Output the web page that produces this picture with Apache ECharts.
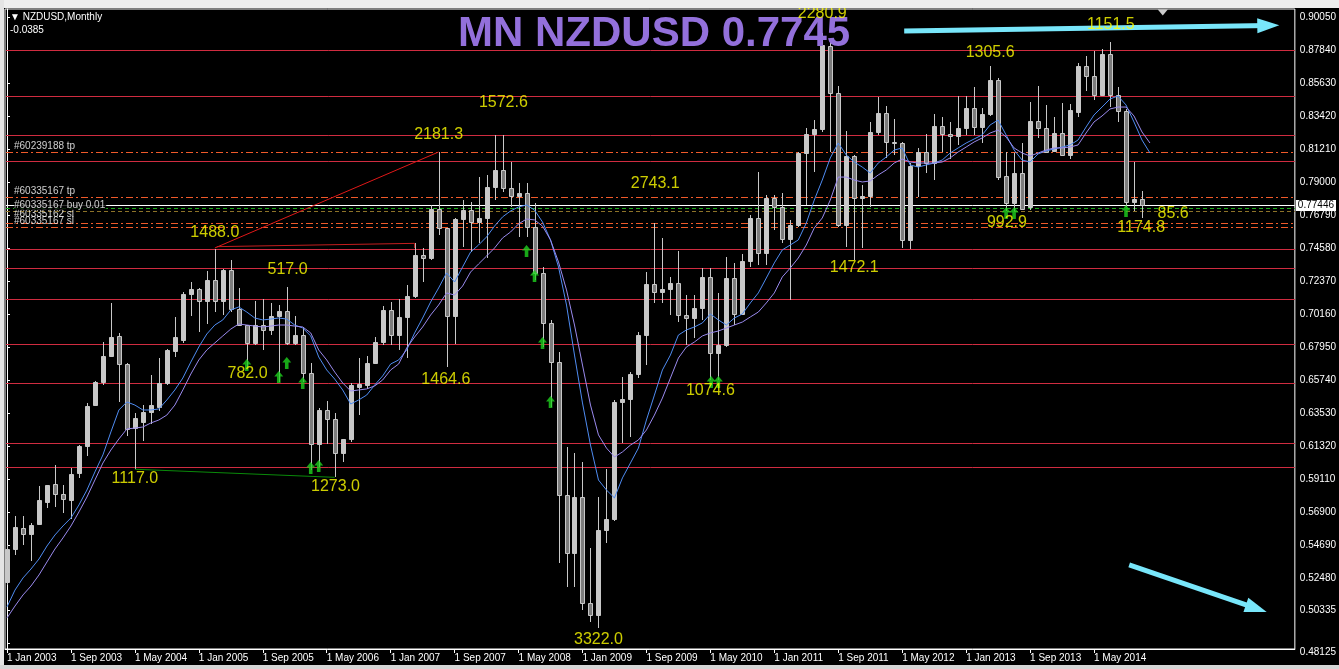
<!DOCTYPE html>
<html><head><meta charset="utf-8">
<script src="https://cdn.jsdelivr.net/npm/echarts@6/dist/echarts.min.js"></script>
<style>html,body{margin:0;padding:0;background:#000;overflow:hidden}#c{width:1339px;height:669px}</style>
</head><body><div id="c"></div>
<script>
// ---------- data ----------
const xTickLabels = ['1 Jan 2003','1 Sep 2003','1 May 2004','1 Jan 2005','1 Sep 2005','1 May 2006','1 Jan 2007','1 Sep 2007','1 May 2008','1 Jan 2009','1 Sep 2009','1 May 2010','1 Jan 2011','1 Sep 2011','1 May 2012','1 Jan 2013','1 Sep 2013','1 May 2014'];
const priceTicks = [0.90050,0.87840,0.85630,0.83420,0.81210,0.79000,0.76790,0.74580,0.72370,0.70160,0.67950,0.65740,0.63530,0.61320,0.59110,0.56900,0.54690,0.52480,0.50335,0.48125];

// monthly candles, index 0 = Jan 2003
const opens = [.5223,.5440,.5580,.5540,.5610,.5760,.5880,.5808,.5770,.5950,.6132,.6405,.6558,.6735,.6870,.6679,.6250,.6290,.6361,.6395,
.6552,.6770,.6845,.7150,.7183,.7103,.7244,.7105,.7311,.7049,.6940,.6820,.6942,.6909,.7003,.7038,.6820,.6873,.6623,.6145,
.6373,.6311,.6083,.6177,.6525,.6540,.6686,.6830,.7043,.6875,.6994,.7136,.7411,.7389,.7717,.7590,.7003,.7652,.7712,.7634,
.7659,.7869,.7980,.7858,.7806,.7828,.7601,.7288,.6954,.6696,.5804,.5413,.5792,.5078,.5000,.5569,.5643,.6429,.6445,.6614,
.6875,.7217,.7165,.7181,.7221,.7009,.6987,.7054,.7262,.6757,.6808,.7255,.7016,.7371,.7657,.7422,.7791,.7735,.7516,.7612,
.8092,.8219,.8253,.8810,.8494,.7612,.8074,.7790,.7806,.8233,.8360,.8170,.8159,.7512,.8007,.8103,.8025,.8275,.8222,.8205,
.8260,.8398,.8270,.8355,.8583,.7940,.7761,.7962,.7730,.8309,.8260,.8110,.8225,.8083,.8370,.8677,.8610,.8483,.8757,.8483,
.8375,.7768,.7786];
const closes = [.5440,.5587,.5540,.5605,.5770,.5868,.5808,.5775,.5944,.6132,.6400,.6558,.6735,.6860,.6679,.6248,.6317,.6361,.6406,.6552,
.6775,.6860,.7150,.7183,.7103,.7244,.7105,.7311,.7049,.6944,.6820,.6942,.6909,.7003,.7038,.6820,.6875,.6623,.6145,.6373,
.6311,.6083,.6177,.6540,.6545,.6686,.6830,.7043,.6875,.6994,.7136,.7411,.7389,.7717,.7590,.7003,.7652,.7712,.7634,.7659,
.7869,.7980,.7858,.7806,.7828,.7601,.7288,.6954,.6696,.5804,.5413,.5792,.5078,.5000,.5569,.5643,.6429,.6445,.6614,.6875,
.7217,.7165,.7181,.7221,.7009,.6987,.7054,.7262,.6757,.6808,.7255,.7016,.7371,.7657,.7422,.7791,.7735,.7516,.7612,.8092,
.8219,.8253,.8817,.8494,.7612,.8074,.7790,.7806,.8233,.8360,.8170,.8159,.7512,.8007,.8103,.8025,.8275,.8222,.8205,.8260,
.8398,.8270,.8355,.8583,.7932,.7761,.7962,.7717,.8309,.8260,.8103,.8225,.8083,.8382,.8677,.8610,.8483,.8757,.8483,.8375,
.7768,.7786,.7745];
const lows = [.5200,.5405,.5469,.5364,.5600,.5715,.5725,.5685,.5645,.5916,.6067,.6400,.6540,.6725,.6429,.6201,.5976,.6167,.6279,.6365,
.6540,.6730,.6820,.7004,.6897,.6949,.7031,.7008,.7031,.6940,.6663,.6810,.6775,.6875,.6562,.6808,.6808,.6562,.5971,.5993,
.6145,.5922,.6027,.6161,.6339,.6512,.6680,.6808,.6808,.6775,.6719,.7121,.7232,.7378,.7545,.6663,.6815,.7467,.7433,.7489,
.7389,.7779,.7835,.7735,.7533,.7533,.7244,.6797,.6395,.5346,.5189,.5189,.5033,.4955,.4911,.5480,.5630,.6150,.6194,.6585,
.6675,.7090,.7087,.7009,.6964,.6808,.6853,.6976,.6574,.6574,.6797,.6942,.7010,.7333,.7344,.7344,.7578,.7489,.7110,.7600,
.7746,.7969,.8235,.8103,.7597,.7467,.7378,.7456,.7731,.8215,.8059,.8081,.7456,.7449,.7802,.7958,.7913,.8103,.8052,.8148,
.8215,.8215,.8159,.8340,.7913,.7708,.7708,.7710,.7715,.8193,.8100,.8100,.8079,.8052,.8333,.8511,.8449,.8480,.8404,.8304,
.7735,.7708,.7657];
const highs = [.5470,.5663,.5663,.5614,.5864,.5872,.6003,.5869,.5982,.6140,.6418,.6565,.6828,.7092,.6890,.6685,.6355,.6406,.6607,.6719,
.6780,.6998,.7165,.7228,.7190,.7306,.7451,.7315,.7378,.7188,.6945,.7105,.7116,.7092,.7076,.7199,.7003,.6931,.6686,.6384,
.6435,.6351,.6180,.6552,.6719,.6735,.6860,.7069,.7098,.7116,.7210,.7489,.7456,.7746,.8103,.7595,.7660,.7779,.7768,.7935,
.7947,.8215,.8215,.8036,.7891,.7891,.7761,.7333,.6976,.6763,.6127,.6083,.6027,.5447,.5792,.5976,.6440,.6596,.6630,.6897,
.7299,.7627,.7523,.7262,.7438,.7143,.7143,.7322,.7322,.7155,.7400,.7355,.7418,.7679,.7969,.7813,.7813,.7824,.7645,.8103,
.8260,.8315,.8895,.8838,.8543,.8243,.8081,.7880,.8304,.8471,.8409,.8320,.8170,.8029,.8126,.8222,.8355,.8333,.8304,.8476,
.8476,.8534,.8393,.8677,.8596,.8103,.8096,.8159,.8438,.8543,.8416,.8333,.8431,.8422,.8699,.8744,.8779,.8789,.8840,.8534,
.8387,.8036,.7842];

// moving averages (shifted one bar forward)
const maFast = [.5054,.5167,.5248,.5308,.5375,.5462,.5536,.5596,.5650,.5737,.5837,.5958,.6072,.6226,.6373,.6427,.6406,.6373,.6373,.6380,
.6440,.6507,.6587,.6694,.6795,.6882,.6942,.6976,.7043,.7063,.7029,.6989,.6976,.6982,.6989,.6982,.6942,.6922,.6869,.6728,
.6641,.6580,.6507,.6413,.6440,.6473,.6540,.6601,.6681,.6708,.6775,.6889,.6989,.7096,.7190,.7291,.7230,.7331,.7431,.7478,
.7532,.7605,.7666,.7706,.7733,.7746,.7712,.7632,.7512,.7331,.7076,.6741,.6420,.6138,.5904,.5837,.5784,.5918,.6018,.6118,
.6306,.6473,.6641,.6741,.6875,.6909,.6929,.6956,.7016,.6976,.6942,.6989,.7016,.7090,.7157,.7257,.7358,.7445,.7478,.7512,
.7625,.7779,.7913,.8061,.8161,.8081,.8034,.8000,.7960,.8027,.8067,.8114,.8128,.8014,.8000,.8014,.8027,.8047,.8094,.8128,
.8161,.8188,.8215,.8282,.8315,.8215,.8114,.8047,.8034,.8088,.8108,.8121,.8134,.8148,.8181,.8268,.8349,.8402,.8456,.8476,
.8416,.8302,.8181,.8094];
const maSlow = [.4980,.5060,.5134,.5194,.5268,.5355,.5442,.5516,.5596,.5690,.5790,.5904,.6018,.6105,.6179,.6246,.6252,.6259,.6286,.6306,
.6339,.6406,.6507,.6614,.6708,.6775,.6822,.6869,.6915,.6949,.6942,.6935,.6929,.6935,.6942,.6942,.6935,.6929,.6889,.6775,
.6708,.6627,.6554,.6500,.6507,.6514,.6534,.6574,.6641,.6681,.6788,.6862,.6929,.7009,.7076,.7157,.7143,.7203,.7297,.7351,
.7404,.7458,.7525,.7565,.7619,.7652,.7646,.7605,.7512,.7364,.7177,.6942,.6674,.6406,.6206,.6118,.6058,.6092,.6138,.6172,
.6239,.6339,.6453,.6587,.6721,.6795,.6828,.6869,.6889,.6902,.6922,.6942,.6962,.6996,.7029,.7090,.7157,.7264,.7324,.7391,
.7478,.7592,.7659,.7779,.7933,.7933,.7913,.7900,.7907,.7947,.7980,.8027,.8054,.8034,.8027,.8027,.8027,.8034,.8061,.8101,
.8134,.8168,.8195,.8228,.8248,.8201,.8128,.8094,.8074,.8094,.8114,.8128,.8128,.8134,.8148,.8228,.8302,.8342,.8389,.8402,
.8402,.8342,.8235,.8161];

// horizontal support / resistance levels
const levelPrices = [0.8782,0.8473,0.8215,0.8039,0.7451,0.7322,0.7115,0.6813,0.6552,0.6150,0.5993];
// order lines (take profit / stop loss)
const orderTpSl = [0.8098,0.7800,0.7627,0.7601];
const buyPrice = 0.7729, buyPrice2 = 0.7708, bidPrice = 0.77446;
const orderTexts = ['#60239188 tp','#60335167 tp','#60335162 sl','#60335167 sl','#60335167 buy 0.01'];
const orderTextPrices = [0.8141,0.7840,0.7686,0.7639,0.7746];

// swing labels: text, bar position, price
const swingTexts = ['2280.9','1151.5','1305.6','1572.6','2181.3','2743.1','1488.0','517.0','1472.1','782.0','1464.6','1074.6','1117.0','1273.0','3322.0','992.9','1174.8','85.6'];
const swingBars  = [102,138.1,123,62.1,54,81.1,26,35.1,106,30.1,54.9,88,16,41.1,74,125.1,141.9,145.9];
const swingPrices= [0.9025,0.8951,0.8764,0.8429,0.8215,0.7887,0.7558,0.7311,0.7324,0.6614,0.6574,0.6500,0.5911,0.5857,0.4833,0.7625,0.7592,0.7686];

// green buy-signal arrows
const arrowBars   = [30,34,35,37,38,39,65,66,67,68,88.1,89,125,126,140];
const arrowPrices = [.6674,.6594,.6688,.6554,.5984,.5998,.7438,.7270,.6822,.6427,.6560,.6560,.7692,.7692,.7706];

// trend lines
const redTrend   = [[26,0.7458],[54,0.8101]];
const redFlat    = [[26.25,0.7467],[51,0.7489],[51,0.7458]];
const greenTrend = [[16,0.5976],[41,0.5922]];
// big cyan arrows [start, head]
const cyanTop    = [[112.25,0.8911],[157.8,0.8948]];
const cyanBottom = [[140.4,0.5335],[156.3,0.5044]];

// ---------- chart ----------
const chart = echarts.init(document.getElementById('c'), null, {renderer:'canvas'});
const FONT = 'Liberation Sans';
const xTickValues = xTickLabels.map((_, k) => k * 8);
const candleData = opens.map((o, i) => [i, o, closes[i], lows[i], highs[i]]);

function renderCandle(params, api) {
  const i = api.value(0), o = api.value(1), c = api.value(2), l = api.value(3), h = api.value(4);
  const pO = api.coord([i, o]), pC = api.coord([i, c]);
  const pL = api.coord([i, l]), pH = api.coord([i, h]);
  const x = Math.round(pO[0]) + 0.5;
  const top = Math.round(Math.min(pO[1], pC[1])) + 0.5;
  const bot = Math.round(Math.max(pO[1], pC[1])) + 0.5;
  const bull = c >= o;
  return {
    type: 'group',
    children: [
      {type:'line', shape:{x1:x, y1:Math.round(pH[1]), x2:x, y2:Math.round(pL[1])}, style:{stroke:'#C8C8C8', lineWidth:1}},
      {type:'rect', shape:{x:x-2, y:top, width:4, height:Math.max(bot-top, 1)},
       style:{fill: bull ? '#C8C8C8' : '#7C7C7C', stroke:'#C8C8C8', lineWidth:1}}
    ]
  };
}

// crisp full-width horizontal lines drawn through the value axis
function hLineSeries(values, color, dash, z, withLabel) {
  return {
    type:'custom', silent:true, z:z, clip:!withLabel,
    data: values.map(v => [0, v]),
    encode: {x:0, y:1},
    renderItem: function (params, api) {
      const cs = params.coordSys;
      const v = api.value(1);
      const y = Math.round(api.coord([0, v])[1]) + 0.5;
      const kids = [{type:'line', shape:{x1:cs.x + 1, y1:y, x2:cs.x + cs.width, y2:y},
        style:{stroke:color, lineWidth:1, lineDash:dash || null}}];
      if (withLabel) {
        kids.push({type:'text', x:cs.x + cs.width + 1, y:y,
          style:{text:v.toFixed(5), fill:'#000000', backgroundColor:'#FFFFFF', padding:[1,2,0,2],
                 font:'10px "' + FONT + '"', align:'left', verticalAlign:'middle'}});
      }
      return {type:'group', children:kids};
    }
  };
}

const option = {
  backgroundColor: '#000000',
  animation: false,
  title: [
    {text:'MN NZDUSD 0.7745', left:458, top:13, padding:0,
     textStyle:{color:'#9370DB', fontSize:42, fontWeight:'bold', fontFamily:FONT}},
    {text:'\u25BC NZDUSD,Monthly', left:10, top:12, padding:0,
     textStyle:{color:'#FFFFFF', fontSize:10, fontWeight:'normal', fontFamily:FONT}},
    {text:'-0.0385', left:10, top:25, padding:0,
     textStyle:{color:'#FFFFFF', fontSize:10, fontWeight:'normal', fontFamily:FONT}}
  ],
  grid: {left:5, top:9, width:1291, height:640, show:true, borderColor:'#FFFFFF', borderWidth:1, backgroundColor:'#000000'},
  xAxis: {
    type:'value', min:-0.25, max:161.125,
    splitLine:{show:false},
    axisLine:{show:true, lineStyle:{color:'#FFFFFF'}},
    axisTick:{show:true, customValues:xTickValues, length:4, lineStyle:{color:'#FFFFFF'}},
    axisLabel:{show:true, customValues:xTickValues, color:'#FFFFFF', fontSize:10, fontFamily:FONT, align:'left', margin:4,
      formatter: v => xTickLabels[Math.round(v / 8)] || ''}
  },
  yAxis: {
    type:'value', position:'right', min:0.47722, max:0.90586, scale:true,
    splitLine:{show:false},
    axisLine:{show:true, lineStyle:{color:'#FFFFFF'}},
    axisTick:{show:true, customValues:priceTicks, length:3, lineStyle:{color:'#FFFFFF'}},
    axisLabel:{show:true, customValues:priceTicks, color:'#FFFFFF', fontSize:10, fontFamily:FONT, margin:5,
      formatter: v => v < 0.49 ? '{low|' + v.toFixed(5) + '}' : v.toFixed(5),
      rich:{low:{color:'#FFFFFF', fontSize:10, fontFamily:FONT, padding:[18,0,0,0]}}}
  },
  series: [
    hLineSeries(levelPrices, '#D02C40', null, 2),
    hLineSeries(orderTpSl, '#F05A2A', [7,3,2,3], 2),
    hLineSeries([buyPrice], '#1AAA1A', [4,3], 2),
    hLineSeries([buyPrice2], '#8C7228', [4,3], 2),
    hLineSeries([bidPrice], '#FFFFFF', null, 2, true),
    {type:'custom', name:'NZDUSD', renderItem:renderCandle, data:candleData, encode:{x:0, y:[1,2,3,4]}, z:3, clip:true},
    {type:'line', name:'MA fast', data:maFast.map((v, i) => [i, v]), showSymbol:false, z:4,
     lineStyle:{color:'#4F8CF2', width:1}},
    {type:'line', name:'MA slow', data:maSlow.map((v, i) => [i, v]), showSymbol:false, z:4,
     lineStyle:{color:'#9A8AEE', width:1}},
    {type:'line', data:redTrend, showSymbol:false, z:5, lineStyle:{color:'#E01818', width:1}},
    {type:'line', data:redFlat, showSymbol:false, z:5, lineStyle:{color:'#C41E1E', width:1}},
    {type:'line', data:greenTrend, showSymbol:false, z:5, lineStyle:{color:'#0A8A0A', width:1}},
    { // buy arrows
      type:'scatter', z:6, data:arrowBars.map((b, k) => [b, arrowPrices[k]]),
      symbol:'path://M5,0 L10,5.5 L7,5.5 L7,12 L3,12 L3,5.5 L0,5.5 Z', symbolSize:[9,12],
      itemStyle:{color:'#1ED21E'}
    },
    { // swing labels
      type:'scatter', z:7, symbolSize:0, silent:true,
      data: swingTexts.map((t, k) => ({name:t, value:[swingBars[k], swingPrices[k]]})),
      label:{show:true, position:'inside', formatter:'{b}', color:'#FFFF00', fontSize:16, fontFamily:FONT}
    },
    { // order texts
      type:'scatter', z:7, symbolSize:0, silent:true,
      data: orderTexts.map((t, k) => ({name:t, value:[0.875, orderTextPrices[k]],
        label: t.indexOf('buy') >= 0 ? {backgroundColor:'#000000', padding:[0,1,0,0]} : {}})),
      label:{show:true, position:'right', distance:0, formatter:'{b}', color:'#FFFFFF', fontSize:10, fontFamily:FONT}
    },
    { // chart shift marker
      type:'scatter', z:7, silent:true, data:[[144.6, 0.9035]], symbol:'triangle', symbolRotate:180,
      symbolSize:[10,6], itemStyle:{color:'#FFFFFF'}
    },
    { // cyan arrows
      type:'line', data:[], z:8, silent:true,
      markLine:{
        silent:true, symbol:['none','triangle'], symbolSize:[15,22], animation:false, label:{show:false},
        lineStyle:{color:'#78E6FA', width:5, type:'solid'},
        emphasis:{disabled:true},
        data:[
          [{coord:cyanTop[0]}, {coord:cyanTop[1]}],
          [{coord:cyanBottom[0]}, {coord:cyanBottom[1]}]
        ]
      }
    }
  ],
  graphic: [
    {type:'rect', z:100, shape:{x:0, y:0, width:1339, height:8}, style:{fill:'#EEEEEE'}},
    {type:'rect', z:100, shape:{x:0, y:0, width:4, height:669}, style:{fill:'#E4E4E4'}},
    {type:'rect', z:100, shape:{x:0, y:665, width:1339, height:4}, style:{fill:'#D6D6D6'}}
  ]
};
chart.setOption(option);
</script>
</body></html>
